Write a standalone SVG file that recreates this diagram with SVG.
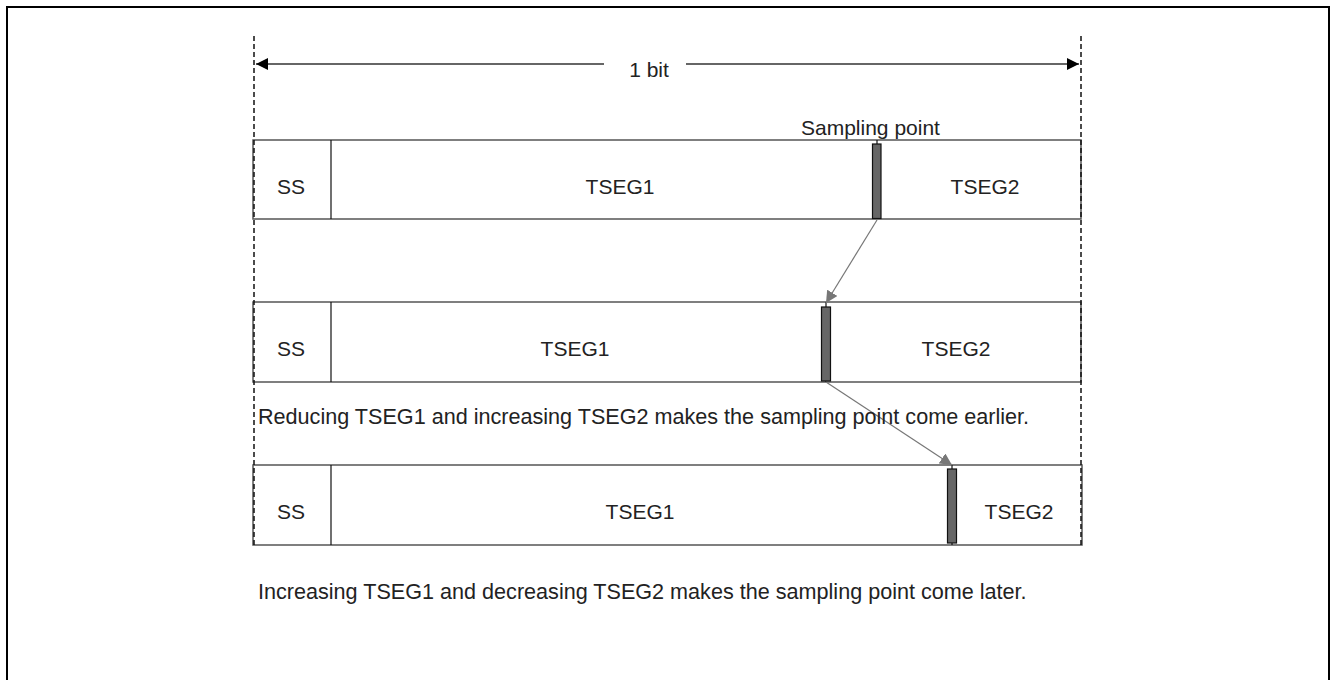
<svg xmlns="http://www.w3.org/2000/svg" width="1330" height="680" viewBox="0 0 1330 680">
  <defs>
    <style>
      text { font-family: "Liberation Sans", Arial, sans-serif; font-size: 21px; fill: #222; }
      .mid { text-anchor: middle; }
      .note { font-size: 21.6px; }
      .row { fill: #fff; stroke: #555; stroke-width: 1.5; }
      .div { stroke: #111; stroke-width: 1.2; }
      .bar { fill: #666; stroke: #111; stroke-width: 1.2; }
      .guide { stroke: #111; stroke-width: 1.5; stroke-dasharray: 5 3; fill: none; }
      .move { stroke: #777; stroke-width: 1.2; fill: none; marker-end: url(#grayHead); }
    </style>
    <marker id="blackHead" viewBox="0 0 10 10" refX="10" refY="5" markerWidth="12" markerHeight="12" markerUnits="userSpaceOnUse" orient="auto-start-reverse">
      <path d="M0,0 L10,5 L0,10 Z" fill="#000"/>
    </marker>
    <marker id="grayHead" viewBox="0 0 10 10" refX="10" refY="5" markerWidth="12" markerHeight="12" markerUnits="userSpaceOnUse" orient="auto">
      <path d="M0,0 L10,5 L0,10 Z" fill="#777"/>
    </marker>
  </defs>

  <rect width="1330" height="680" fill="#fff"/>
  <!-- outer frame, open at the bottom -->
  <path d="M7,680 V7 H1329 V680" fill="none" stroke="#000" stroke-width="2"/>

  <!-- bit time span -->
  <g id="bit-span">
    <line x1="256" y1="64" x2="604" y2="64" stroke="#666" stroke-width="2" marker-start="url(#blackHead)"/>
    <line x1="686" y1="64" x2="1079" y2="64" stroke="#666" stroke-width="2" marker-end="url(#blackHead)"/>
    <text x="649" y="77" class="mid">1 bit</text>
  </g>

  <!-- row 1: nominal timing -->
  <g id="row1">
    <rect class="row" x="253" y="140" width="828" height="79"/>
    <line class="div" x1="331" y1="140" x2="331" y2="219"/>
    <text x="291" y="194" class="mid">SS</text>
    <text x="620" y="194" class="mid">TSEG1</text>
    <text x="985" y="194" class="mid">TSEG2</text>
    <line class="div" x1="877" y1="140" x2="877" y2="219"/>
    <rect class="bar" x="872.5" y="144" width="8.5" height="74.5"/>
    <text x="801" y="135">Sampling point</text>
  </g>

  <!-- row 2: sampling point earlier -->
  <g id="row2">
    <rect class="row" x="253" y="302" width="828" height="80"/>
    <line class="div" x1="331" y1="302" x2="331" y2="382"/>
    <text x="291" y="356" class="mid">SS</text>
    <text x="575" y="356" class="mid">TSEG1</text>
    <text x="956" y="356" class="mid">TSEG2</text>
    <line class="div" x1="826" y1="302" x2="826" y2="382"/>
    <rect class="bar" x="821.5" y="307" width="9" height="74"/>
  </g>

  <!-- row 3: sampling point later -->
  <g id="row3">
    <rect class="row" x="253" y="465" width="829" height="80"/>
    <line class="div" x1="331" y1="465" x2="331" y2="545"/>
    <text x="291" y="519" class="mid">SS</text>
    <text x="640" y="519" class="mid">TSEG1</text>
    <text x="1019" y="519" class="mid">TSEG2</text>
    <line class="div" x1="952" y1="465" x2="952" y2="545"/>
    <rect class="bar" x="947.5" y="469" width="9" height="74"/>
  </g>

  <!-- bit boundaries -->
  <g id="guides">
    <line class="guide" x1="254" y1="36" x2="254" y2="545"/>
    <line class="guide" x1="1081" y1="36" x2="1081" y2="545"/>
  </g>

  <!-- sampling point shifts -->
  <g id="connectors">
    <line class="move" x1="877" y1="220" x2="826" y2="303"/>
    <line class="move" x1="826" y1="382" x2="952" y2="465"/>
  </g>

  <g id="notes">
    <text class="note" x="258" y="424">Reducing TSEG1 and increasing TSEG2 makes the sampling point come earlier.</text>
    <text class="note" x="258" y="599">Increasing TSEG1 and decreasing TSEG2 makes the sampling point come later.</text>
  </g>
</svg>
